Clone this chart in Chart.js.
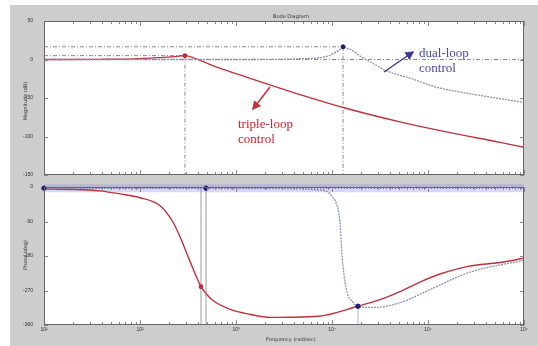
<!DOCTYPE html>
<html>
<head>
<meta charset="utf-8">
<script src="https://cdn.jsdelivr.net/npm/chart.js@4.4.1/dist/chart.umd.min.js"></script>
<style>
body { margin: 0; background: #fff; width: 538px; height: 346px; overflow: hidden; font-family: "DejaVu Sans", sans-serif; }
#fig { position: absolute; left: 10px; top: 5px; width: 528px; height: 341px; background: #cdcdcd; }
#magBox { position: absolute; left: 10px; top: 5px; width: 528px; height: 176px; }
#phaseBox { position: absolute; left: 10px; top: 181px; width: 528px; height: 165px; }
.lbl { position: absolute; font-size: 5px; color: #333; white-space: nowrap; }
.vlbl { transform: translate(-50%, -50%) rotate(-90deg); }
.note { position: absolute; font-family: "Liberation Serif", serif; font-size: 13px; line-height: 15px; }
svg { position: absolute; left: 0; top: 0; }
</style>
</head>
<body>
<div id="fig"></div>
<div id="magBox"><canvas id="mag"></canvas></div>
<div id="phaseBox"><canvas id="phase"></canvas></div>

<div class="lbl" style="left:273px;top:13px">Bode Diagram</div>
<div class="lbl vlbl" style="left:25px;top:101px">Magnitude (dB)</div>
<div class="lbl vlbl" style="left:25px;top:255px">Phase (deg)</div>
<div class="lbl" style="left:266px;top:336px">Frequency (rad/sec)</div>

<div class="note" style="left:419px;top:45px;color:#4848a8">dual-loop<br>control</div>
<div class="note" style="left:238px;top:116px;color:#d3202c">triple-loop<br>control</div>

<svg width="538" height="346">
  <defs>
    <marker id="hb" markerWidth="6" markerHeight="6" refX="5" refY="3" orient="auto"><path d="M0,0 L6,3 L0,6 z" fill="#3a3a90"/></marker>
    <marker id="hr" markerWidth="6" markerHeight="6" refX="5" refY="3" orient="auto"><path d="M0,0 L6,3 L0,6 z" fill="#c0303a"/></marker>
  </defs>
  <line x1="384" y1="72" x2="413" y2="52" stroke="#3a3a90" stroke-width="1.5" marker-end="url(#hb)"/>
  <line x1="270" y1="87" x2="253" y2="109" stroke="#c0303a" stroke-width="1.5" marker-end="url(#hr)"/>
</svg>

<script>
// axis ticks
const freqTicks = [10, 100, 1e3, 1e4, 1e5, 1e6];
const magTicks = [50, 0, -50, -100, -150];
const phaseTicks = [0, -90, -180, -270, -360];

// magnitude (dB)
const dualMagFreq = [10, 1400, 2150, 3650, 4640, 7150, 9530, 10740, 11830, 13030, 14300, 15780, 20050, 27040, 35650, 68000, 118300, 356500, 1000000];
const dualMag = [0, 0, 0.2, 0.5, 1, 2.1, 5.5, 8.9, 12, 16.5, 14.5, 12.7, 3.8, -5.5, -14, -25, -35.4, -46.8, -55.7];
const tripleMagFreq = [10, 38, 85, 160, 230, 294, 356, 630, 1100, 2260, 4640, 13650, 51050, 169400, 562000, 1000000];
const tripleMag = [0, 0.2, 0.8, 2.5, 3.8, 5, 2.5, -10, -20, -33, -45.6, -63, -81, -95, -107.6, -114];

// phase (deg)
const dualPhaseFreq = [10, 1400, 4640, 7150, 9080, 10000, 11000, 12120, 12710, 13990, 16560, 19580, 28050, 52360, 100000, 261000, 1000000];
const dualPhase = [-3, -4, -5, -8, -13, -24, -41, -92, -176, -263, -301, -314, -314, -301, -270, -224, -191];
const triplePhaseFreq = [10, 38, 62, 100, 162, 221, 261, 332, 432, 499, 576, 931, 1400, 2260, 7150, 18660, 31620, 51050, 82540, 133400, 261000, 562000, 1000000];
const triplePhase = [-5, -10, -18, -28, -49, -92, -130, -194, -260, -281, -296, -322, -332, -340, -337, -311, -294, -273, -248, -227, -207, -197, -186];

// cursors / data tips
const phaseCursorFreqs = [432, 487];
const bandLevel = -3;
const bandMarkFreqs = [10, 487];
const crossPoint = { f: 18660, deg: -311 };

const RED = '#c0303a';
const BLUE = '#8a90b4';
const NAVY = '#1c1c70';
const REF = '#8a8a8a';

const pts = (xs, ys) => xs.map((x, i) => ({ x, y: ys[i] }));
const sup = { 1: '\u00b9', 2: '\u00b2', 3: '\u00b3', 4: '\u2074', 5: '\u2075', 6: '\u2076' };

const framePlugin = {
    id: 'frame',
    beforeDraw(chart) {
        const { ctx, chartArea: a } = chart;
        ctx.save();
        ctx.fillStyle = '#fff';
        ctx.fillRect(a.left, a.top, a.width, a.height);
        ctx.restore();
    },
    afterDraw(chart) {
        const { ctx, chartArea: a, scales } = chart;
        ctx.save();
        ctx.strokeStyle = '#888';
        ctx.lineWidth = 1;
        ctx.beginPath();
        for (let e = 1; e <= 6; e++) {
            for (let m = 1; m < 10; m++) {
                const v = m * Math.pow(10, e);
                if (v > 1e6) break;
                const px = Math.round(scales.x.getPixelForValue(v)) + 0.5;
                const len = m === 1 ? 5 : 3;
                ctx.moveTo(px, a.top); ctx.lineTo(px, a.top + len);
                ctx.moveTo(px, a.bottom); ctx.lineTo(px, a.bottom - len);
            }
        }
        scales.y.ticks.forEach(t => {
            const py = Math.round(scales.y.getPixelForValue(t.value)) + 0.5;
            ctx.moveTo(a.left, py); ctx.lineTo(a.left + 4, py);
            ctx.moveTo(a.right, py); ctx.lineTo(a.right - 4, py);
        });
        ctx.stroke();
        ctx.strokeStyle = '#666';
        ctx.strokeRect(a.left + 0.5, a.top + 0.5, a.width - 1, a.height - 1);
        ctx.restore();
    }
};

function baseScales(yMin, yMax, yTicks, showX) {
    return {
        x: {
            type: 'logarithmic', min: freqTicks[0], max: freqTicks[freqTicks.length - 1],
            grid: { display: false, drawTicks: false }, border: { display: false },
            afterBuildTicks: s => { s.ticks = freqTicks.map(v => ({ value: v })); },
            afterFit: s => { s.height = showX ? 21 : 0; },
            ticks: {
                display: showX, maxRotation: 0, autoSkip: false, padding: 2,
                color: '#333', font: { size: 5 },
                callback: v => '10' + sup[Math.round(Math.log10(v))]
            }
        },
        y: {
            min: yMin, max: yMax,
            grid: { display: false }, border: { display: false },
            afterBuildTicks: s => { s.ticks = yTicks.map(v => ({ value: v })); },
            afterFit: s => { s.width = 34; },
            ticks: { color: '#333', font: { size: 5 }, padding: 3 }
        }
    };
}

function line(data, color, opts = {}) {
    return Object.assign({
        data, borderColor: color, backgroundColor: color, borderWidth: 1,
        pointRadius: 0, fill: false, cubicInterpolationMode: 'monotone', order: 1
    }, opts);
}

// magnitude chart
const tPeak = tripleMag.indexOf(Math.max(...tripleMag));
const dPeak = dualMag.indexOf(Math.max(...dualMag));
const tPk = { x: tripleMagFreq[tPeak], y: tripleMag[tPeak] };
const dPk = { x: dualMagFreq[dPeak], y: dualMag[dPeak] };
const refDash = { borderDash: [4, 2, 1, 2], order: 5, cubicInterpolationMode: 'default' };

new Chart(document.getElementById('mag'), {
    type: 'line',
    data: {
        datasets: [
            line([{ x: 10, y: 0 }, { x: 1e6, y: 0 }], REF, refDash),
            line([{ x: 10, y: tPk.y }, tPk], REF, refDash),
            line([{ x: 10, y: dPk.y }, dPk], REF, refDash),
            line([tPk, { x: tPk.x, y: magTicks[4] }], REF, refDash),
            line([dPk, { x: dPk.x, y: magTicks[4] }], REF, refDash),
            line(pts(dualMagFreq, dualMag), BLUE, { borderDash: [2, 1], borderWidth: 1.3 }),
            line(pts(tripleMagFreq, tripleMag), RED, { borderWidth: 1.4 }),
            line([tPk], RED, { showLine: false, pointRadius: 2, order: 0 }),
            line([dPk], NAVY, { showLine: false, pointRadius: 2, order: 0 })
        ]
    },
    options: {
        responsive: true, maintainAspectRatio: false, animation: false,
        layout: { padding: { top: 16, right: 14, bottom: 3, left: 0 } },
        plugins: { legend: { display: false }, tooltip: { enabled: false } },
        scales: baseScales(-150, 50, magTicks, false)
    },
    plugins: [framePlugin]
});

// phase chart
const tMark = { x: phaseCursorFreqs[0], y: triplePhase[triplePhaseFreq.indexOf(phaseCursorFreqs[0])] };
const cross = { x: crossPoint.f, y: crossPoint.deg };

new Chart(document.getElementById('phase'), {
    type: 'line',
    data: {
        datasets: [
            line([{ x: 10, y: bandLevel }, { x: 1e6, y: bandLevel }], 'rgba(140,140,230,0.35)', { borderWidth: 8, order: 6, clip: false }),
            line([{ x: 10, y: bandLevel }, { x: 1e6, y: bandLevel }], '#3a3aa8', { borderDash: [1, 2], order: 2, clip: false }),
            line([{ x: phaseCursorFreqs[0], y: 0 }, { x: phaseCursorFreqs[0], y: -360 }], '#9a9a9a', { order: 5 }),
            line([{ x: phaseCursorFreqs[1], y: bandLevel }, { x: phaseCursorFreqs[1], y: -360 }], '#9a9a9a', { order: 5 }),
            line([cross, { x: cross.x, y: -360 }], '#a8b4e0', { order: 5 }),
            line(pts(dualPhaseFreq, dualPhase), BLUE, { borderDash: [2, 1], borderWidth: 1.3 }),
            line(pts(triplePhaseFreq, triplePhase), RED, { borderWidth: 1.4 }),
            line([tMark], RED, { showLine: false, pointRadius: 2, order: 0 }),
            line(bandMarkFreqs.map(f => ({ x: f, y: bandLevel })), NAVY, { showLine: false, pointRadius: 2.2, order: 0, clip: false }),
            line([cross], NAVY, { showLine: false, pointRadius: 2.2, order: 0 })
        ]
    },
    options: {
        responsive: true, maintainAspectRatio: false, animation: false,
        layout: { padding: { top: 3, right: 14, bottom: 0, left: 0 } },
        plugins: { legend: { display: false }, tooltip: { enabled: false } },
        scales: baseScales(-360, 0, phaseTicks, true)
    },
    plugins: [framePlugin]
});
</script>
</body>
</html>
